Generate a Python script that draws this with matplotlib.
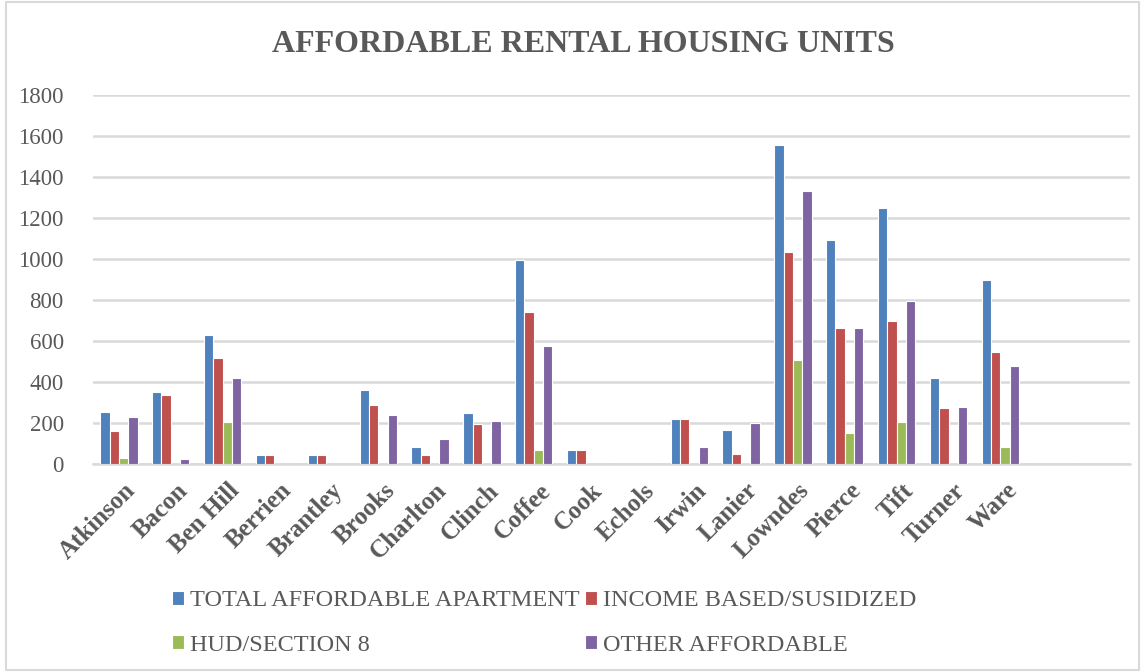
import matplotlib
matplotlib.use("Agg")
import matplotlib.pyplot as plt
import numpy as np
from matplotlib.patches import Rectangle
import matplotlib.transforms as mtransforms

counties = ["Atkinson", "Bacon", "Ben Hill", "Berrien", "Brantley", "Brooks",
            "Charlton", "Clinch", "Coffee", "Cook", "Echols", "Irwin", "Lanier",
            "Lowndes", "Pierce", "Tift", "Turner", "Ware", "", ""]
total_affordable = [252, 348, 626, 40, 40, 358, 80, 245, 994, 65, 0, 217, 165,
                    1558, 1090, 1248, 420, 898, 0, 0]
income_based = [158, 335, 517, 40, 40, 285, 40, 193, 740, 65, 0, 218, 45,
                1035, 664, 696, 270, 546, 0, 0]
hud_section8 = [25, 0, 205, 0, 0, 0, 0, 0, 65, 0, 0, 0, 0,
                504, 148, 203, 0, 83, 0, 0]
other_affordable = [228, 20, 416, 0, 0, 239, 120, 206, 572, 0, 0, 80, 197,
                    1332, 660, 796, 275, 475, 0, 0]
series_names = ["TOTAL AFFORDABLE APARTMENT", "INCOME BASED/SUSIDIZED",
                "HUD/SECTION 8", "OTHER AFFORDABLE"]
colors = ["#4F81BD", "#C0504D", "#9BBB59", "#8064A2"]
yticks = [0, 200, 400, 600, 800, 1000, 1200, 1400, 1600, 1800]

serif = ["Liberation Serif", "DejaVu Serif"]
gray = "#595959"

fig = plt.figure(figsize=(11.45, 6.72), dpi=100)
ax = fig.add_axes([93 / 1145, 1 - 463.5 / 672, (1130 - 93) / 1145, (463.5 - 95) / 672])

x = np.arange(len(counties))
bw = 0.18
series = [total_affordable, income_based, hud_section8, other_affordable]
for i, (vals, c, name) in enumerate(zip(series, colors, series_names)):
    ax.bar(x + (i - 1.5) * bw, vals, width=bw, color=c, edgecolor="white",
           linewidth=0.8, label=name, zorder=3)

ax.set_xlim(-0.5, len(counties) - 0.5)
ax.set_ylim(0, 1800)
ax.set_yticks(yticks)
ax.set_yticklabels([str(v) for v in yticks], fontfamily=serif, fontsize=16.5, color=gray)
ax.yaxis.grid(True, color="#D9D9D9", linewidth=1.8, zorder=0)
ax.set_axisbelow(True)
ax.tick_params(axis="y", length=0, pad=21)
ax.tick_params(axis="x", length=0, pad=11)
ax.set_xticks(x)
ax.set_xticklabels(counties, rotation=45, ha="right", rotation_mode="anchor",
                   fontfamily=serif, fontsize=18, fontweight="bold", color=gray)
offset = mtransforms.ScaledTranslation(5 / 100, 0, fig.dpi_scale_trans)
for lbl in ax.get_xticklabels():
    lbl.set_transform(lbl.get_transform() + offset)
for s in ["top", "right", "left"]:
    ax.spines[s].set_visible(False)
ax.spines["bottom"].set_color("#D9D9D9")
ax.spines["bottom"].set_linewidth(1.8)

fig.text(583 / 1145, 1 - 45 / 672, "AFFORDABLE RENTAL HOUSING UNITS",
         ha="center", va="center", fontfamily=serif, fontsize=23,
         fontweight="bold", color=gray)

handles, labels = ax.get_legend_handles_labels()
order = [0, 2, 1, 3]
leg = fig.legend([handles[i] for i in order], [labels[i] for i in order],
                 loc="center left", ncol=2,
                 bbox_to_anchor=(160 / 1145, 1 - 623 / 672),
                 frameon=False, prop={"family": serif, "size": 17.5},
                 borderpad=0, handlelength=0.5, handleheight=0.5,
                 handletextpad=0.25, columnspacing=0.2, labelspacing=0.95)
for t in leg.get_texts():
    t.set_color(gray)

fig.patches.append(Rectangle((6 / 1145, 2 / 672), 1133 / 1145, 668 / 672,
                             transform=fig.transFigure, fill=False,
                             edgecolor="#D9D9D9", linewidth=1.5))

fig.savefig("out.png", dpi=100)
